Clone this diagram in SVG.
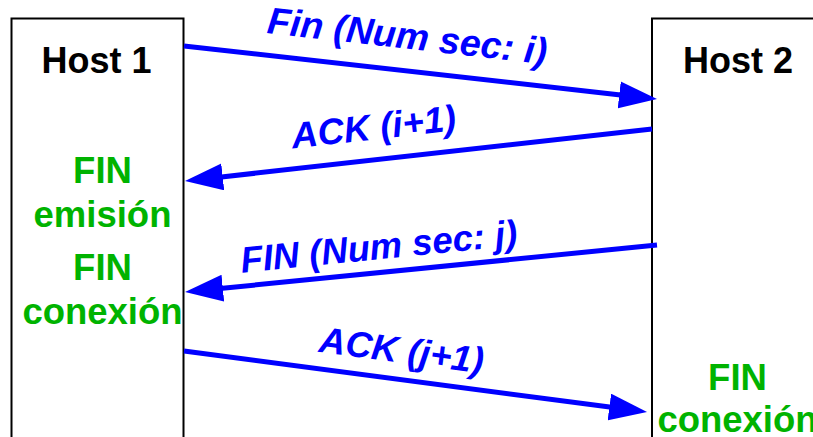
<svg xmlns="http://www.w3.org/2000/svg" width="813" height="437" viewBox="0 0 813 437">
<style>
.box{fill:#fff;stroke:#000;stroke-width:2}
.host{font-family:"Liberation Sans",Arial,sans-serif;font-weight:bold;font-size:36px;fill:#000;text-anchor:middle}
.st{font-family:"Liberation Sans",Arial,sans-serif;font-weight:bold;font-size:36.5px;fill:#00b300;text-anchor:middle}
.lbl{font-family:"Liberation Sans",Arial,sans-serif;font-weight:bold;font-style:italic;font-size:36.5px;fill:#0000ff;text-anchor:middle}
.msg{stroke:#0000ff;stroke-width:5;fill:none;marker-end:url(#ah)}
</style>
<defs>
<marker id="ah" markerUnits="userSpaceOnUse" markerWidth="40" markerHeight="28" refX="8" refY="13.5" orient="auto">
<path d="M0,0 L38,13.5 L0,27 z" fill="#0000ff"/>
</marker>
</defs>
<rect width="813" height="437" fill="#fff"/>
<g id="host1">
<rect class="box" x="11.5" y="18.5" width="172" height="440"/>
<text class="host" x="96.5" y="72.5">Host 1</text>
<text class="st" x="102.5" y="182.5">FIN</text>
<text class="st" x="102.5" y="226.5">emisión</text>
<text class="st" x="102.5" y="280">FIN</text>
<text class="st" x="102.5" y="323.5">conexión</text>
</g>
<g id="host2">
<rect class="box" x="652" y="18.5" width="200" height="440"/>
<text class="host" x="738" y="72.5">Host 2</text>
<text class="st" x="737.5" y="389.5">FIN</text>
<text class="st" x="737.5" y="432">conexión</text>
</g>
<g id="connectors">
<line class="msg" x1="184" y1="46" x2="627.2" y2="95.7"/>
<line class="msg" x1="652" y1="129" x2="214.8" y2="177.7"/>
<line class="msg" x1="657" y1="245" x2="214.9" y2="289"/>
<line class="msg" x1="184" y1="351" x2="617.3" y2="408.1"/>
</g>
<g id="labels">
<text class="lbl" transform="translate(406,48.6) rotate(6.4)" style="font-size:37.5px">Fin (Num sec: i)</text>
<text class="lbl" transform="translate(375,139.3) rotate(-6.4)">ACK (i+1)</text>
<text class="lbl" transform="translate(380,259) rotate(-5.7)">FIN (Num sec: j)</text>
<text class="lbl" transform="translate(400,362.6) rotate(7.5)">ACK (j+1)</text>
</g>
</svg>
